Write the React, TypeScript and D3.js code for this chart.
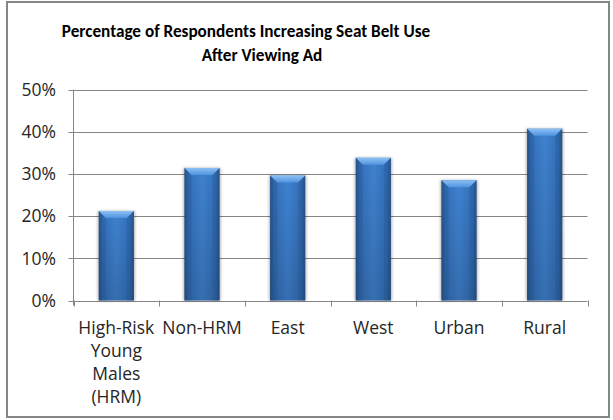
import { useRef, useEffect } from 'react';
import * as d3 from 'd3';

const categories = ['HRM', 'Non-HRM', 'East', 'West', 'Urban', 'Rural'];
const categoryLabels = [
  ['High-Risk', 'Young', 'Males', '(HRM)'],
  ['Non-HRM'],
  ['East'],
  ['West'],
  ['Urban'],
  ['Rural'],
];
const values = [0.212, 0.314, 0.296, 0.338, 0.285, 0.407];
const yTicks = [0, 0.1, 0.2, 0.3, 0.4, 0.5];
const titleLines = ['Percentage of Respondents Increasing Seat Belt Use', 'After Viewing Ad'];

export default function App() {
  const svgRef = useRef<SVGSVGElement>(null);

  useEffect(() => {
    document.body.style.margin = '0';
    if (!svgRef.current) return;
    const width = 613;
    const height = 420;
    const margin = { top: 89.5, right: 25.5, bottom: 119.5, left: 73.5 };
    const titleFont = 'Carlito, Calibri, "Open Sans", sans-serif';
    const labelFont = '"Open Sans", sans-serif';

    d3.select(svgRef.current).selectAll('*').remove();
    const svg = d3.select(svgRef.current).attr('width', width).attr('height', height);

    // Gradients
    const defs = svg.append('defs');
    const hg = defs.append('linearGradient').attr('id', 'barH').attr('x1', 0).attr('x2', 1).attr('y1', 0).attr('y2', 0);
    [
      [0, '#27548e'],
      [0.12, '#3470ba'],
      [0.5, '#3f82d0'],
      [0.88, '#3470ba'],
      [1, '#27548e'],
    ].forEach(([o, c]) => hg.append('stop').attr('offset', o as number).attr('stop-color', c as string));
    const vg = defs.append('linearGradient').attr('id', 'barV').attr('x1', 0).attr('x2', 0).attr('y1', 0).attr('y2', 1);
    vg.append('stop').attr('offset', 0).attr('stop-color', '#000').attr('stop-opacity', 0);
    vg.append('stop').attr('offset', 1).attr('stop-color', '#000').attr('stop-opacity', 0.15);
    const bg = defs.append('linearGradient').attr('id', 'bevel').attr('x1', 0).attr('x2', 0).attr('y1', 0).attr('y2', 1);
    bg.append('stop').attr('offset', 0).attr('stop-color', '#8cc0f5');
    bg.append('stop').attr('offset', 1).attr('stop-color', '#4f93de');
    const blur = defs.append('filter').attr('id', 'shadow').attr('x', '-20%').attr('y', '-5%').attr('width', '140%').attr('height', '110%');
    blur.append('feGaussianBlur').attr('stdDeviation', 1.5);

    // Chart border
    svg
      .append('rect')
      .attr('x', 7)
      .attr('y', 2)
      .attr('width', 602)
      .attr('height', 415)
      .attr('fill', '#fff')
      .attr('stroke', '#868686')
      .attr('stroke-width', 2);

    const x = d3
      .scaleBand()
      .domain(categories)
      .range([margin.left, width - margin.right])
      .paddingInner(0.59)
      .paddingOuter(0.295);
    const bandStep = x.step();

    const y = d3
      .scaleLinear()
      .domain([0, 0.5])
      .range([height - margin.bottom, margin.top]);

    // Gridlines
    svg
      .append('g')
      .selectAll('line')
      .data(yTicks)
      .join('line')
      .attr('x1', margin.left - 5)
      .attr('x2', width - margin.right)
      .attr('y1', (d) => Math.round(y(d)) + 0.5)
      .attr('y2', (d) => Math.round(y(d)) + 0.5)
      .attr('stroke', '#868686')
      .attr('stroke-width', 1);

    // Y axis line
    svg
      .append('line')
      .attr('x1', margin.left)
      .attr('x2', margin.left)
      .attr('y1', y(0.5))
      .attr('y2', y(0) + 5)
      .attr('stroke', '#868686');

    // X category tick marks
    const boundaries = d3.range(categories.length + 1).map((i) => margin.left + i * bandStep);
    svg
      .append('g')
      .selectAll('line')
      .data(boundaries)
      .join('line')
      .attr('x1', (d) => Math.round(d) + 0.5)
      .attr('x2', (d) => Math.round(d) + 0.5)
      .attr('y1', y(0))
      .attr('y2', y(0) + 6)
      .attr('stroke', '#868686');

    // Y tick labels
    svg
      .append('g')
      .selectAll('text')
      .data(yTicks)
      .join('text')
      .attr('x', 56)
      .attr('y', (d) => y(d))
      .attr('dy', '0.36em')
      .attr('text-anchor', 'end')
      .attr('fill', '#262626')
      .attr('font-family', labelFont)
      .attr('font-size', '17.5px')
      .text((d) => d3.format('.0%')(d));

    // Bars
    categories.forEach((cat, i) => {
      const bx = x(cat) || 0;
      const bw = x.bandwidth();
      const top = y(values[i]);
      const h = y(0) - top;
      const g = svg.append('g');
      g.append('rect')
        .attr('x', bx - 1)
        .attr('y', top)
        .attr('width', bw + 2)
        .attr('height', h)
        .attr('fill', '#000')
        .attr('opacity', 0.3)
        .attr('filter', 'url(#shadow)');
      g.append('rect').attr('x', bx).attr('y', top).attr('width', bw).attr('height', h).attr('fill', 'url(#barH)');
      g.append('rect').attr('x', bx).attr('y', top).attr('width', bw).attr('height', h).attr('fill', 'url(#barV)');
      const bev = 7;
      g.append('path')
        .attr('d', `M${bx},${top}L${bx + bw},${top}L${bx + bw - bev},${top + bev}L${bx + bev},${top + bev}Z`)
        .attr('fill', 'url(#bevel)');
      g.append('path')
        .attr('d', `M${bx},${top}L${bx + bev},${top + bev}L${bx + bev},${top + h}L${bx},${top + h}Z`)
        .attr('fill', '#1f4a80')
        .attr('opacity', 0.25);
      g.append('path')
        .attr('d', `M${bx + bw},${top}L${bx + bw - bev},${top + bev}L${bx + bw - bev},${top + h}L${bx + bw},${top + h}Z`)
        .attr('fill', '#1f4a80')
        .attr('opacity', 0.25);
    });

    // X labels
    categories.forEach((cat, i) => {
      const cx = (x(cat) || 0) + x.bandwidth() / 2;
      const t = svg
        .append('text')
        .attr('text-anchor', 'middle')
        .attr('fill', '#262626')
        .attr('font-family', labelFont)
        .attr('font-size', '17.5px');
      categoryLabels[i].forEach((line, j) => {
        t.append('tspan').attr('x', cx).attr('y', 333.5 + j * 23.3).text(line);
      });
    });

    // Title
    const titleCenters = [246, 262];
    titleLines.forEach((line, i) => {
      svg
        .append('text')
        .attr('x', titleCenters[i])
        .attr('y', 37 + i * 24)
        .attr('text-anchor', 'middle')
        .attr('fill', '#000')
        .attr('font-family', titleFont)
        .attr('font-size', '17.2px')
        .attr('font-weight', 'bold')
        .text(line);
    });
  }, []);

  return <svg ref={svgRef} style={{ display: 'block' }} />;
}
